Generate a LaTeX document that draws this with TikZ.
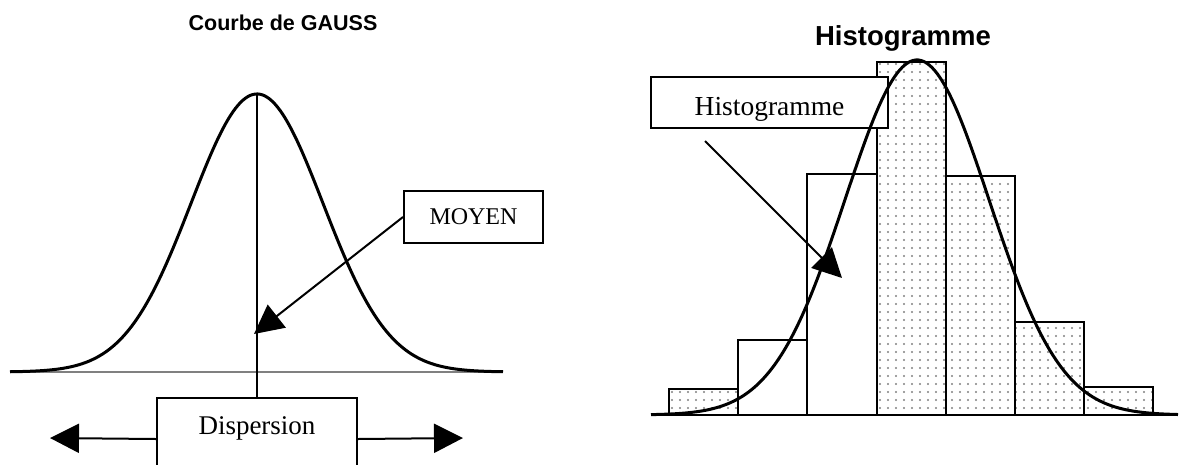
\documentclass[tikz,border=0pt]{standalone}
\usepackage{fontspec}
\setmainfont{Liberation Serif}
\setsansfont{Liberation Sans}
\usetikzlibrary{arrows.meta, patterns.meta}

\tikzset{
	labelbox/.style={draw, fill=white, line width=2pt},
	curve/.style={line width=3pt, line join=round},
	bar/.style={draw, line width=2.2pt},
	dotbar/.style={bar, pattern={Dots[distance=8pt, radius=1.1pt]}, pattern color=gray},
	titletext/.style={anchor=base, font=\sffamily\bfseries\fontsize{#1}{#1}\selectfont}
}

\begin{document}
\begin{tikzpicture}[x=1pt, y=-1pt,
				>={Triangle[length=29pt, width=29pt]},
				line width=2pt]
				\useasboundingbox (0,0) rectangle (1181,464);
				\clip (0,0) rectangle (1181,464);
				
				\node (gtitle) [titletext=21.5] at (283,30) {Courbe de GAUSS};
				\draw[gray, line width=1.5pt] (10,372) -- (503,372);
				\draw[curve] plot[domain=10:503, samples=200] (\x, {372-278*exp(-0.5*((\x-257)/66)^2)});
				\coordinate (gtop) at (257,93);
				\node (disp) [labelbox, anchor=north, minimum width=200pt, inner ysep=18pt, text height=18pt, text depth=28pt, font=\fontsize{27}{30}\selectfont] at (257,397) {Dispersion};
				\node (moyen) [labelbox, minimum width=139pt, minimum height=52pt, font=\fontsize{24}{28}\selectfont] at (473.5,217) {MOYEN};
				\coordinate (mtip) at (254,334);
				\coordinate (dl) at (50,438);
				\coordinate (dr) at (463,438);
				\draw (gtop) -- (disp.north);
				\draw[->] (moyen.west) -- (mtip);
				\draw[->] (disp.west) -- (dl);
				\draw[->] (disp.east) -- (dr);
				
				\node (htitle) [titletext=27.5] at (903,45) {Histogramme};
				\draw[dotbar] (669,415) rectangle (738,389);
				\draw[bar] (738,415) rectangle (807,340);
				\draw[bar] (807,415) rectangle (877,174);
				\draw[dotbar] (877,415) rectangle (946,62);
				\draw[dotbar] (946,415) rectangle (1015,176);
				\draw[dotbar] (1015,415) rectangle (1084,322);
				\draw[dotbar] (1084,415) rectangle (1153,387);
				\draw[line width=2.4pt] (651,415) -- (1178,415);
				\node (hbox) [labelbox, minimum width=237pt, minimum height=51pt, text height=25pt, text depth=0pt, font=\fontsize{27.5}{30}\selectfont] at (769.5,102.5) {Histogramme};
				\coordinate (hs) at (705,141);
				\coordinate (ht) at (842,278);
				\draw[->] (hs) -- (ht);
				\draw[curve] plot[domain=651:1178, samples=200] (\x, {415-355*exp(-0.5*((\x-917)/72)^2)});
			\end{tikzpicture}
\end{document}
